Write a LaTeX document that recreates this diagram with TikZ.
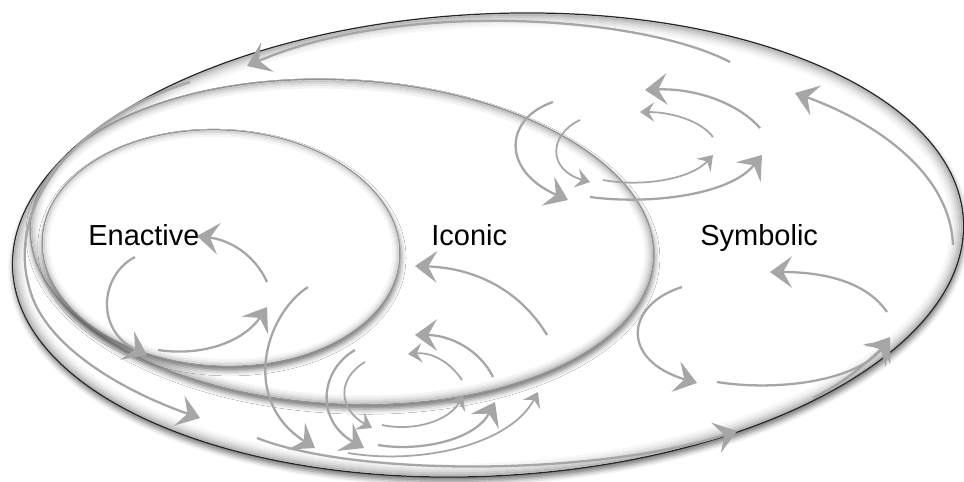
\documentclass[tikz,border=0pt]{standalone}
\usepackage{fontspec}
\setmainfont{Liberation Sans}
\usetikzlibrary{arrows.meta, shadows.blur}
\tikzstyle{flow} = [draw=black!35, line width=1.3pt, -{Stealth[length=12.5pt, width=18pt, inset=5pt]}]
\tikzstyle{small flow} = [draw=black!35, line width=1pt, -{Stealth[length=8pt, width=11pt, inset=3pt]}]
\tikzstyle{stage} = [anchor=base west, inner sep=0pt, font=\fontsize{16.5}{20}\selectfont]
\tikzstyle{ring} = [fill=white, blur shadow={shadow xshift=0.5pt, shadow yshift=-2.5pt, shadow blur radius=3pt, shadow opacity=55}]

\begin{document}
\begin{tikzpicture}[x=0.02cm, y=-0.02cm]
    \useasboundingbox (0,0) rectangle (964,481);

    % symbolic ring
    \begin{scope}[shift={(488,245)}, rotate=3]
        \path[ring] (0,0) ellipse [x radius=476, y radius=231];
        \foreach \d/\c in {2/55, 4/42, 6/30, 8/20, 10/12, 12/6}
            \draw[gray!\c, line width=1.3pt] (0,0) ellipse [x radius=476-\d, y radius=231-\d];
        \draw[black!85, line width=0.7pt] (0,0) ellipse [x radius=476, y radius=231];
    \end{scope}

    % iconic ring
    \begin{scope}[shift={(342,242)}, rotate=-3]
        \path[ring] (0,0) ellipse [x radius=312, y radius=162];
        \foreach \d/\c in {2/45, 4/30, 6/18, 8/9}
            \draw[gray!\c, line width=1.3pt] (0,0) ellipse [x radius=312-\d, y radius=162-\d];
        \draw[gray!85, line width=0.8pt] (0,0) ellipse [x radius=312, y radius=162];
    \end{scope}

    % enactive ring
    \begin{scope}[shift={(221,248)}, rotate=-3]
        \path[ring] (0,0) ellipse [x radius=179, y radius=118];
        \foreach \d/\c in {2/32, 4/17, 6/7}
            \draw[gray!\c, line width=1.3pt] (0,0) ellipse [x radius=179-\d, y radius=118-\d];
        \draw[gray!85, line width=0.7pt] (0,0) ellipse [x radius=179, y radius=118];
    \end{scope}

    \node (enactive) [stage] at (88,245) {Enactive};
    \node (iconic) [stage] at (431,245) {Iconic};
    \node (symbolic) [stage] at (700,245) {Symbolic};

    % outer cycle
    \draw[flow] (730,62) .. controls (640,15) and (400,0) .. (247,66);
    \draw[flow] (190,82) .. controls (70,120) and (5,210) .. (30,290) .. controls (45,345) and (120,390) .. (200,418);
    \draw[flow] (257,438) .. controls (360,478) and (600,475) .. (737,431);
    \draw[flow] (813,398) .. controls (840,385) and (865,365) .. (890,340);
    \draw[flow] (953,245) .. controls (950,170) and (870,120) .. (795,93);

    % enactive cycle
    \draw[flow] (267,282) .. controls (255,255) and (230,240) .. (197,236);
    \draw[flow] (135,257) .. controls (100,275) and (95,330) .. (147,355);
    \draw[flow] (158,350) .. controls (205,357) and (245,340) .. (267,307);
    \draw[flow] (308,287) .. controls (265,315) and (240,400) .. (315,448);

    % iconic cycle
    \draw[flow] (547,335) .. controls (520,290) and (475,268) .. (415,266);
    \draw[flow] (493,377) .. controls (480,350) and (450,335) .. (415,335);
    \draw[small flow] (462,380) .. controls (450,362) and (432,352) .. (408,354);
    \draw[flow] (355,350) .. controls (320,370) and (315,420) .. (364,448);
    \draw[small flow] (365,362) .. controls (335,380) and (340,410) .. (372,428);
    \draw[small flow] (382,425) .. controls (415,432) and (450,420) .. (463,395);
    \draw[flow] (378,445) .. controls (420,452) and (475,440) .. (495,402);
    \draw[small flow] (348,453) .. controls (420,465) and (510,445) .. (538,392);

    % upper cycle
    \draw[flow] (760,128) .. controls (735,100) and (690,88) .. (645,90);
    \draw[small flow] (713,137) .. controls (700,120) and (670,112) .. (640,112);
    \draw[flow] (553,102) .. controls (505,118) and (500,170) .. (568,200);
    \draw[small flow] (580,120) .. controls (548,135) and (548,170) .. (590,182);
    \draw[small flow] (603,180) .. controls (640,187) and (690,180) .. (713,155);
    \draw[flow] (590,197) .. controls (650,205) and (730,195) .. (762,155);

    % symbolic cycle
    \draw[flow] (887,312) .. controls (865,280) and (820,272) .. (770,272);
    \draw[flow] (682,287) .. controls (625,305) and (620,360) .. (697,383);
    \draw[flow] (717,382) .. controls (780,392) and (860,380) .. (890,337);

\end{tikzpicture}
\end{document}
